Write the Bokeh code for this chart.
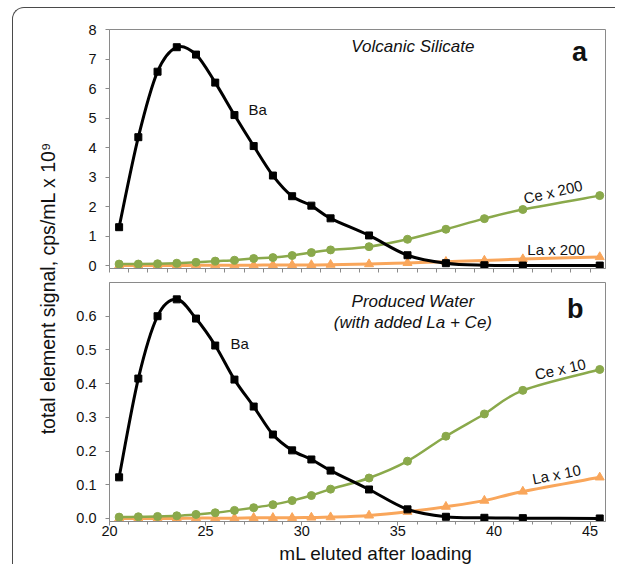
import numpy as np
from bokeh.plotting import figure
from bokeh.layouts import row, column
from bokeh.models import (Range1d, Label, SingleIntervalTicker, FixedTicker,
                          PrintfTickFormatter)
from bokeh.embed import file_html
from bokeh.resources import INLINE

# ---- data ----
ml_eluted = [20.5, 21.5, 22.5, 23.5, 24.5, 25.5, 26.5, 27.5, 28.5, 29.5,
             30.5, 31.5, 33.5, 35.5, 37.5, 39.5, 41.5, 45.5]

# panel a: Volcanic Silicate
ba_a = [1.30, 4.35, 6.57, 7.40, 7.15, 6.20, 5.10, 4.05, 3.05, 2.35,
        2.03, 1.60, 1.02, 0.35, 0.08, 0.01, 0.00, 0.00]
ce_a = [0.05, 0.05, 0.06, 0.08, 0.11, 0.15, 0.18, 0.24, 0.27, 0.34,
        0.44, 0.53, 0.64, 0.89, 1.23, 1.59, 1.90, 2.37]
la_a = [0.00, 0.00, 0.00, 0.00, 0.01, 0.01, 0.01, 0.01, 0.02, 0.02,
        0.02, 0.03, 0.05, 0.09, 0.13, 0.17, 0.22, 0.29]

# panel b: Produced Water (with added La + Ce)
ba_b = [0.122, 0.415, 0.600, 0.650, 0.593, 0.513, 0.412, 0.332, 0.249, 0.202,
        0.175, 0.142, 0.086, 0.027, 0.005, 0.002, 0.001, 0.000]
ce_b = [0.004, 0.005, 0.006, 0.008, 0.012, 0.017, 0.024, 0.032, 0.041, 0.053,
        0.068, 0.087, 0.120, 0.170, 0.244, 0.310, 0.380, 0.442]
la_b = [0.000, 0.000, 0.000, 0.000, 0.001, 0.001, 0.001, 0.002, 0.002, 0.002,
        0.003, 0.004, 0.009, 0.020, 0.035, 0.053, 0.080, 0.122]

x_minor_ticks = list(range(20, 46))

FONT = "Liberation Sans"
AX = "#8a8a8a"
TXT = "#111111"
GREEN = "#8aa94b"
ORANGE = "#f9a65b"
BLACK = "#000000"


def smooth_segments(x, y):
    """Catmull-Rom style cubic Bezier control points (like a smoothed line)."""
    x = np.asarray(x, float)
    y = np.asarray(y, float)
    n = len(x)
    px = np.concatenate([[x[0]], x, [x[-1]]])
    py = np.concatenate([[y[0]], y, [y[-1]]])
    cx0 = px[1:n] + (px[2:n + 1] - px[0:n - 1]) / 6.0
    cy0 = py[1:n] + (py[2:n + 1] - py[0:n - 1]) / 6.0
    cx1 = px[2:n + 1] - (px[3:n + 2] - px[1:n]) / 6.0
    cy1 = py[2:n + 1] - (py[3:n + 2] - py[1:n]) / 6.0
    return dict(x0=x[:-1], y0=y[:-1], x1=x[1:], y1=y[1:],
                cx0=cx0, cy0=cy0, cx1=cx1, cy1=cy1)


def make_panel(ymin, ymax, yinterval, yfmt, top_border, bottom_border, show_x):
    p = figure(frame_width=496, frame_height=239,
               x_range=Range1d(20, 45.8), y_range=Range1d(ymin, ymax),
               output_backend="svg", toolbar_location=None,
               min_border_left=48, min_border_right=10,
               min_border_top=top_border, min_border_bottom=bottom_border)
    p.background_fill_color = "white"
    p.border_fill_color = None
    p.outline_line_color = AX
    p.outline_line_width = 1
    p.xgrid.visible = False
    p.ygrid.visible = False

    p.yaxis.ticker = SingleIntervalTicker(interval=yinterval, num_minor_ticks=0)
    p.yaxis.formatter = PrintfTickFormatter(format=yfmt)
    for ax in (p.xaxis, p.yaxis):
        ax.axis_line_color = AX
        ax.major_tick_line_color = AX
        ax.minor_tick_line_color = AX
        ax.major_tick_in = 0
        ax.major_tick_out = 4
        ax.minor_tick_in = 0
        ax.minor_tick_out = 3
        ax.major_label_text_font = FONT
        ax.major_label_text_font_size = "14.5px"
        ax.major_label_text_color = TXT
    p.yaxis.minor_tick_line_color = None
    p.yaxis.major_label_standoff = 9
    if show_x:
        p.xaxis.ticker = SingleIntervalTicker(interval=5, num_minor_ticks=5)
        p.xaxis.major_label_standoff = 0
    else:
        p.xaxis.ticker = FixedTicker(ticks=[], minor_ticks=x_minor_ticks)
        p.xaxis.minor_tick_out = 4
        p.xaxis.major_label_standoff = 0
    return p


def add_series(p, x, y, color, lw, marker, msize):
    p.bezier(line_color=color, line_width=lw, **smooth_segments(x, y))
    p.scatter(x, y, marker=marker, size=msize, fill_color=color,
              line_color=color)


def add_text(p, x, y, text, size="15px", style="normal", angle=0,
             align="center"):
    p.add_layout(Label(x=x, y=y, text=text, text_font=FONT,
                       text_font_size=size, text_font_style=style,
                       text_color=TXT, text_align=align,
                       text_baseline="middle", angle=angle,
                       angle_units="deg"))


def text_strip(w, h):
    f = figure(frame_width=w, frame_height=h, x_range=Range1d(0, 1),
               y_range=Range1d(0, 1), x_axis_type=None, y_axis_type=None,
               output_backend="svg", toolbar_location=None, min_border=0)
    f.outline_line_color = None
    f.xgrid.visible = False
    f.ygrid.visible = False
    f.border_fill_color = None
    f.background_fill_color = None
    return f


# ---- panel a ----
pa = make_panel(-0.10, 8, 1, "%d", 21, 5, False)
add_series(pa, ml_eluted, la_a, ORANGE, 3, "triangle", 9)
add_series(pa, ml_eluted, ce_a, GREEN, 2.5, "circle", 8)
add_series(pa, ml_eluted, ba_a, BLACK, 3, "square", 7)
add_text(pa, 35.78, 7.42, "Volcanic Silicate", "17px", "italic")
add_text(pa, 44.45, 7.24, "a", "27px", "bold")
add_text(pa, 27.71, 5.29, "Ba", "15px")
add_text(pa, 43.07, 2.50, "Ce x 200", "15px", angle=13)
add_text(pa, 43.23, 0.55, "La x 200", "15px")

# ---- panel b ----
pb = make_panel(-0.009, 0.7, 0.1, "%.1f", 9, 21, True)
add_series(pb, ml_eluted, la_b, ORANGE, 3, "triangle", 9)
add_series(pb, ml_eluted, ce_b, GREEN, 2.5, "circle", 8)
add_series(pb, ml_eluted, ba_b, BLACK, 3, "square", 7)
add_text(pb, 35.78, 0.644, "Produced Water", "17px", "italic")
add_text(pb, 35.78, 0.582, "(with added La + Ce)", "17px", "italic")
add_text(pb, 44.22, 0.622, "b", "27px", "bold")
add_text(pb, 26.77, 0.519, "Ba", "15px")
add_text(pb, 43.45, 0.443, "Ce x 10", "15px", angle=12.5)
add_text(pb, 43.25, 0.131, "La x 10", "15px", angle=11)

# ---- x-axis title strip (offset right of the frame centre, as in the reference) ----
px_title = text_strip(554, 22)
px_title.add_layout(Label(x=0.481, y=0.5, text="mL eluted after loading",
                          text_font=FONT, text_font_size="19px", text_color=TXT,
                          text_align="center", text_baseline="middle"))

# ---- shared y-axis title ----
pl = text_strip(48, 556)
pl.add_layout(Label(x=0.72, y=0.497, text="total element signal, cps/mL x 10\u2079",
                    text_font=FONT, text_font_size="19.5px", text_color=TXT,
                    text_align="center", text_baseline="middle",
                    angle=90, angle_units="deg"))

layout = row(pl, column(pa, pb, px_title, spacing=0), spacing=0,
             margin=(7, 0, 0, 12),
             styles={"border-left": "1.5px solid #4a4a4a",
                     "border-top": "1.5px solid #4a4a4a",
                     "border-top-left-radius": "12px"})

with open("out.html", "w") as f:
    f.write(file_html(layout, INLINE))
